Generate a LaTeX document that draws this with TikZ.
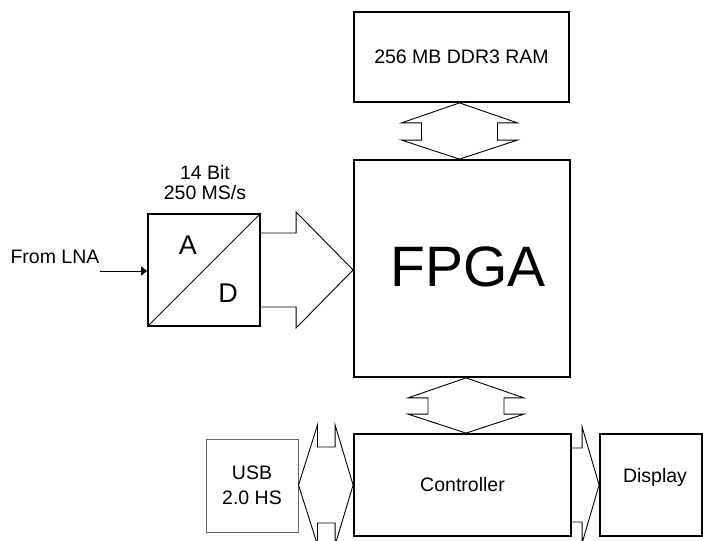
\documentclass[tikz,border=0pt]{standalone}
\usepackage{fontspec}
\setmainfont{Liberation Sans}
\usetikzlibrary{arrows.meta,calc}
\begin{document}
\begin{tikzpicture}[x=1pt,y=-1pt,
  box/.style={draw,line width=1.8pt,inner sep=0pt,font=\fontsize{19.5}{23}\selectfont},
  thinbox/.style={draw=black!60,line width=1pt,inner sep=0pt,align=center,font=\fontsize{19.5}{25}\selectfont},
  blk/.style={draw,line width=0.9pt,line join=miter},
  txt/.style={inner sep=0pt,font=\fontsize{19.5}{20}\selectfont,align=center},
  bigletter/.style={inner sep=0pt,font=\fontsize{27}{27}\selectfont}]
\useasboundingbox (0,0) rectangle (703,540);
\clip (0,0) rectangle (703,540);

% boxes
\node[box,minimum width=215pt,minimum height=90pt] (ram) at (461.5,57) {256 MB DDR3 RAM};
\node[box,minimum width=216pt,minimum height=217pt,
  label={[font=\fontsize{57}{57}\selectfont,inner sep=0pt,shift={(6,-2)}]center:FPGA}] (fpga) at (462,268.5) {};
\node[box,minimum width=217pt,minimum height=102pt] (ctrl) at (462.5,485) {Controller};
\node[box,minimum width=102pt,minimum height=102pt,
  label={[font=\fontsize{19.5}{23}\selectfont,inner sep=0pt,shift={(4,-8)}]center:Display}] (disp) at (651,485) {};
\node[thinbox,minimum width=92pt,minimum height=93pt] (usb) at (252,485.5) {USB\\2.0 HS};
\node[box,minimum width=112pt,minimum height=112pt] (adc) at (204,270) {};
\draw[line width=0.9pt] (adc.south west) -- (adc.north east);
\node[bigletter] (la) at (188,245) {A};
\node[bigletter] (ld) at (228,293) {D};

% texts
\node[txt] (bits) at (205,183) {14 Bit\\250 MS/s};
\node[txt] (lnatxt) at (55,257) {From LNA};

% input arrow
\coordinate (lna) at (100,271);
\draw[line width=0.8pt,-{Triangle[length=6pt,width=9pt]}] (lna) -- (lna -| adc.west);

% RAM <-> FPGA
\draw[blk] let \p1=($(ram.south)+(-2,0)$), \p2=(fpga.north) in
  (\x1,\y1) -- (\x1+58pt,\y1-20pt) -- (\x1+38pt,\y1-20pt) -- (\x1+38pt,\y2+19pt)
  -- (\x1+58pt,\y2+19pt) -- (\x1,\y2) -- (\x1-58pt,\y2+19pt) -- (\x1-38pt,\y2+19pt)
  -- (\x1-38pt,\y1-20pt) -- (\x1-58pt,\y1-20pt) -- cycle;

% FPGA <-> Controller
\draw[blk] let \p1=($(fpga.south)+(4,0)$), \p2=(ctrl.north) in
  (\x1,\y1) -- (\x1+58pt,\y1-20pt) -- (\x1+38pt,\y1-20pt) -- (\x1+38pt,\y2+19pt)
  -- (\x1+58pt,\y2+19pt) -- (\x1,\y2) -- (\x1-58pt,\y2+19pt) -- (\x1-38pt,\y2+19pt)
  -- (\x1-38pt,\y1-20pt) -- (\x1-58pt,\y1-20pt) -- cycle;

% USB <-> Controller
\draw[blk] let \p1=(usb.east), \p2=(ctrl.west) in
  (\x1,\y2) -- (\x1+19pt,\y2+60pt) -- (\x1+19pt,\y2+38pt) -- (\x2-18pt,\y2+38pt)
  -- (\x2-18pt,\y2+60pt) -- (\x2,\y2) -- (\x2-18pt,\y2-60pt) -- (\x2-18pt,\y2-38pt)
  -- (\x1+19pt,\y2-38pt) -- (\x1+19pt,\y2-60pt) -- cycle;

% Controller -> Display
\draw[blk] let \p1=(ctrl.east), \p2=(disp.west) in
  (\x1,\y2+37pt) -- (\x2-17pt,\y2+37pt) -- (\x2-17pt,\y2+58pt) -- (\x2,\y2)
  -- (\x2-17pt,\y2-58pt) -- (\x2-17pt,\y2-37pt) -- (\x1,\y2-37pt);

% ADC -> FPGA
\draw[blk] let \p1=(adc.east), \p2=(fpga.west) in
  (\x1,\y1+37pt) -- (\x2-57pt,\y1+37pt) -- (\x2-57pt,\y1+58pt) -- (\x2,\y1)
  -- (\x2-57pt,\y1-58pt) -- (\x2-57pt,\y1-37pt) -- (\x1,\y1-37pt);
\end{tikzpicture}
\end{document}
